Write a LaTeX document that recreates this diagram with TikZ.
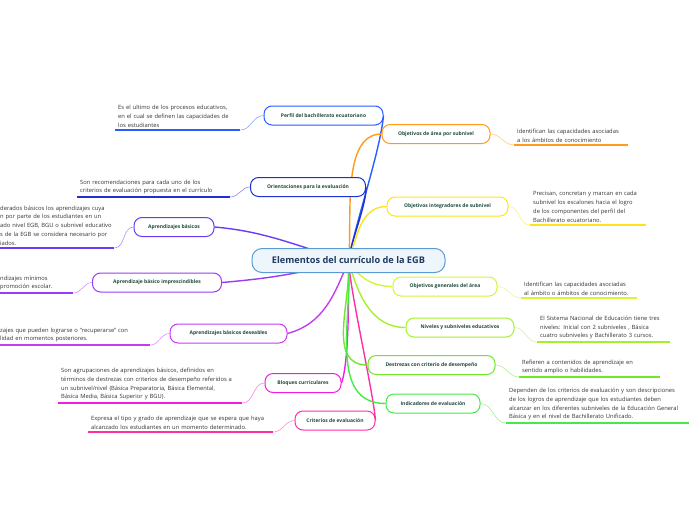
\documentclass[tikz,border=0pt]{standalone}
\usepackage{fontspec}
\setmainfont{Open Sans}
\usetikzlibrary{backgrounds}
\definecolor{rootline}{HTML}{5B9BD5}
\definecolor{rootfill}{HTML}{EEF5FB}
\definecolor{roottext}{HTML}{1F3A5F}
\definecolor{labeltext}{HTML}{1F4A3C}
\definecolor{notetext}{HTML}{333333}
\definecolor{cperfil}{HTML}{2A5CFF}
\definecolor{corient}{HTML}{1F2FD6}
\definecolor{capb}{HTML}{6B3CF5}
\definecolor{cimp}{HTML}{9A3CF7}
\definecolor{cdes}{HTML}{C43CF0}
\definecolor{cbloq}{HTML}{F01EE0}
\definecolor{ccrit}{HTML}{FF2FA8}
\definecolor{carea}{HTML}{FF9B1A}
\definecolor{cinteg}{HTML}{FFE31A}
\definecolor{cgen}{HTML}{D4F53A}
\definecolor{cniv}{HTML}{A6F02A}
\definecolor{cdestr}{HTML}{6FE82A}
\definecolor{cind}{HTML}{47E84A}
\begin{document}
\begin{tikzpicture}[x=1pt,y=-1pt,
  topic/.style={draw=#1,line width=1pt,rounded corners=8pt,fill=white,
    minimum height=19pt,inner xsep=4pt,text=labeltext,
    font=\fontsize{5}{6}\selectfont\bfseries},
  note/.style={anchor=south west,align=left,inner xsep=3pt,inner ysep=2.5pt,
    text=notetext,font=\fontsize{5.8}{8.8}\selectfont},
  branch/.style={draw=#1,line width=1.4pt},
  twig/.style={draw=#1!55,line width=.6pt},
  ul/.style={draw=#1,line width=1.2pt}]
\useasboundingbox (0,0) rectangle (696,520);
% central topic
\node[draw=rootline,line width=1pt,fill=rootfill,rounded corners=10pt,
  minimum width=193pt,minimum height=24pt,text=roottext,
  font=\fontsize{9.2}{11}\selectfont\bfseries] (root) at (348.5,260.5)
  {Elementos del currículo de la EGB};
% left topics
\node[topic=cperfil,minimum width=119pt] (perfil) at (323.5,115.5) {Perfil del bachillerato ecuatoriano};
\node[topic=corient,minimum width=115pt] (orient) at (308,187) {Orientaciones para la evaluación};
\node[topic=capb,minimum width=80pt] (apb) at (174,227) {Aprendizajes básicos};
\node[topic=cimp,minimum width=129pt] (imp) at (157,282.5) {Aprendizaje básico imprescindibles};
\node[topic=cdes,minimum width=117pt] (des) at (228.5,333.5) {Aprendizajes básicos deseables};
\node[topic=cbloq,minimum width=76pt] (bloq) at (303,383) {Bloques curriculares};
\node[topic=ccrit,minimum width=80pt] (crit) at (335,420.5) {Criterios de evaluación};
% right topics
\node[topic=carea,minimum width=108pt] (area) at (436,134) {Objetivos de área por subnivel};
\node[topic=cinteg,minimum width=121pt] (integ) at (447.5,206.5) {Objetivos integradores de subnivel};
\node[topic=cgen,minimum width=104pt] (gen) at (445,286.5) {Objetivos generales del área};
\node[topic=cniv,minimum width=108pt] (niv) at (460,327.5) {Niveles y subniveles educativos};
\node[topic=cdestr,minimum width=127pt] (destr) at (431.5,365) {Destrezas con criterio de desempeño};
\node[topic=cind,minimum width=94pt] (ind) at (433,403.5) {Indicadores de evaluación};
% notes
\node[note,text width=119pt] (nperfil) at (115,130) {Es el ultimo de los procesos educativos,\\en el cual se definen las capacidades de\\los estudiantes};
\node[note,text width=147pt] (norient) at (77,197) {Son recomendaciones para cada uno de los\\criterios de evaluación propuesta en el currículo};
\node[note,text width=111pt] (napb) at (-3,248) {\mbox{derados básicos los aprendizajes cuya}\\\mbox{n por parte de los estudiantes en un}\\\mbox{ado nivel EGB, BGU o subnivel educativo}\\\mbox{s de la EGB se considera necesario por}\\iados.};
\node[note,text width=70pt] (nimp) at (-3,293) {ndizajes mínimos\\ promoción escolar.};
\node[note,text width=147pt] (ndes) at (-3,345) {zajes que pueden lograrse o “recuperarse” con\\lidad en momentos posteriores.};
\node[note,text width=178pt] (nbloq) at (58,403) {Son agrupaciones de aprendizajes básicos, definidos en\\términos de destrezas con criterios de desempeño referidos a\\un subnivel/nivel (Básica Preparatoria, Básica Elemental,\\Básica Media, Básica Superior y BGU).};
\node[note,text width=179pt] (ncrit) at (88,432) {Expresa el tipo y grado de aprendizaje que se espera que haya\\alcanzado los estudiantes en un momento determinado.};
\node[note,text width=108pt] (narea) at (514,145) {Identifican las capacidades asociadas\\a los ámbitos de conocimiento};
\node[note,text width=110pt] (ninteg) at (530,225) {Precisan, concretan y marcan en cada\\subnivel los escalones hacia el logro\\de los componentes del perfil del\\Bachillerato ecuatoriano.};
\node[note,text width=110pt] (ngen) at (521,298) {Identifican las capacidades asociadas\\al ámbito o ámbitos de conocimiento.};
\node[note,text width=127pt] (nniv) at (537,342) {El Sistema Nacional de Educación tiene tres\\niveles: Inicial con 2 subniveles , Básica\\cuatro subniveles y Bachillerato 3 cursos.};
\node[note,text width=135pt] (ndestr) at (519,377) {Refieren a contenidos de aprendizaje en\\sentido amplio o habilidades.};
\node[note,text width=177pt] (nind) at (506,423) {Dependen de los criterios de evaluación y son descripciones\\de los logros de aprendizaje que los estudiantes deben\\alcanzar en los diferentes subniveles de la Educación General\\Básica y en el nivel de Bachillerato Unificado.};
\begin{scope}[on background layer]
% branches
\draw[branch=cperfil] (root.center) to[out=80,in=-95,looseness=.6] (perfil.east);
\draw[branch=corient] (root.center) to[out=84,in=-88,looseness=.6] (orient.east);
\draw[branch=capb] (root.center) to[out=165,in=-5] (apb.east);
\draw[branch=cimp] (root.center) to[out=195,in=5] (imp.east);
\draw[branch=cdes] (root.center) to[out=-112,in=15] (des.east);
\draw[branch=cbloq] (root.center) to[out=-90,in=70,looseness=.5] (bloq.east);
\draw[branch=ccrit] (root.center) to[out=-87,in=95,looseness=.5] (crit.east);
\draw[branch=carea] (root.center) to[out=84,in=180,looseness=.8] (area.west);
\draw[branch=cinteg] (root.center) to[out=70,in=180] (integ.west);
\draw[branch=cgen] (root.center) to[out=-60,in=180] (gen.west);
\draw[branch=cniv] (root.center) to[out=-75,in=180] (niv.west);
\draw[branch=cdestr] (root.center) to[out=-86,in=180] (destr.west);
\draw[branch=cind] (root.center) to[out=-86,in=180] (ind.west);
% twigs
\draw[twig=cperfil] (perfil.west) to[out=180,in=0] (nperfil.south east);
\draw[twig=corient] (orient.west) to[out=180,in=0] (norient.south east);
\draw[twig=capb] (apb.west) to[out=180,in=0] (napb.south east);
\draw[twig=cimp] (imp.west) to[out=180,in=0] (nimp.south east);
\draw[twig=cdes] (des.west) to[out=180,in=0] (ndes.south east);
\draw[twig=cbloq] (bloq.west) to[out=180,in=0] (nbloq.south east);
\draw[twig=ccrit] (crit.west) to[out=180,in=0] (ncrit.south east);
\draw[twig=carea] (area.east) to[out=0,in=180] (narea.south west);
\draw[twig=cinteg] (integ.east) to[out=0,in=180] (ninteg.south west);
\draw[twig=cgen] (gen.east) to[out=0,in=180] (ngen.south west);
\draw[twig=cniv] (niv.east) to[out=0,in=180] (nniv.south west);
\draw[twig=cdestr] (destr.east) to[out=0,in=180] (ndestr.south west);
\draw[twig=cind] (ind.east) to[out=0,in=180] (nind.south west);
\end{scope}
% underlines
\draw[ul=cperfil] (nperfil.south west) -- (nperfil.south east);
\draw[ul=corient] (norient.south west) -- (norient.south east);
\draw[ul=capb] (napb.south west) -- (napb.south east);
\draw[ul=cimp] (nimp.south west) -- (nimp.south east);
\draw[ul=cdes] (ndes.south west) -- (ndes.south east);
\draw[ul=cbloq] (nbloq.south west) -- (nbloq.south east);
\draw[ul=ccrit] (ncrit.south west) -- (ncrit.south east);
\draw[ul=carea] (narea.south west) -- (narea.south east);
\draw[ul=cinteg] (ninteg.south west) -- (ninteg.south east);
\draw[ul=cgen] (ngen.south west) -- (ngen.south east);
\draw[ul=cniv] (nniv.south west) -- (nniv.south east);
\draw[ul=cdestr] (ndestr.south west) -- (ndestr.south east);
\draw[ul=cind] (nind.south west) -- (nind.south east);
\end{tikzpicture}
\end{document}
